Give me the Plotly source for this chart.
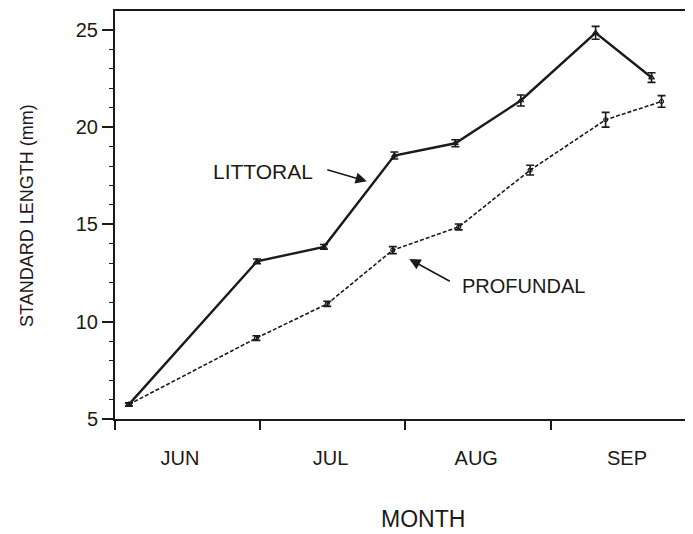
import plotly.graph_objects as go

# Sampling dates, in months since 1 June
littoral_x = [0.096, 0.978, 1.439, 1.924, 2.344, 2.795, 3.310, 3.695]
littoral_y = [5.75, 13.10, 13.85, 18.54, 19.17, 21.37, 24.85, 22.55]
littoral_err = [0.08, 0.12, 0.12, 0.18, 0.18, 0.28, 0.33, 0.25]

profundal_x = [0.096, 0.974, 1.462, 1.913, 2.367, 2.859, 3.379, 3.764]
profundal_y = [5.75, 9.16, 10.92, 13.68, 14.87, 17.79, 20.38, 21.32]
profundal_err = [0.08, 0.12, 0.13, 0.18, 0.15, 0.25, 0.38, 0.30]

month_names = ["JUN", "JUL", "AUG", "SEP"]
month_label_pos = [0.447, 1.485, 2.488, 3.526]
month_bounds = [0, 1, 2, 3]
y_major = [5, 10, 15, 20, 25]

FONT = "Liberation Sans, Arial, Helvetica, sans-serif"
INK = "#1a1a1a"

fig = go.Figure()

fig.add_trace(go.Scatter(
    x=littoral_x, y=littoral_y, mode="lines+markers", name="LITTORAL",
    line=dict(color=INK, width=2.4),
    marker=dict(symbol="triangle-up-open", size=5, color=INK, line=dict(width=1.2)),
    error_y=dict(type="data", array=littoral_err, visible=True,
                 color=INK, thickness=1.6, width=4),
))
fig.add_trace(go.Scatter(
    x=profundal_x, y=profundal_y, mode="lines+markers", name="PROFUNDAL",
    line=dict(color=INK, width=1.6, dash="4px,2px"),
    marker=dict(symbol="circle-open", size=4, color=INK, line=dict(width=1.2)),
    error_y=dict(type="data", array=profundal_err, visible=True,
                 color=INK, thickness=1.6, width=4),
))

annotations = [
    dict(x=1.734, y=17.22, xref="x", yref="y", ax=-41, ay=-12,
         showarrow=True, arrowhead=2, arrowsize=1.4, arrowwidth=1.6,
         arrowcolor=INK, text=""),
    dict(x=2.027, y=13.22, xref="x", yref="y", ax=42, ay=23,
         showarrow=True, arrowhead=2, arrowsize=1.4, arrowwidth=1.6,
         arrowcolor=INK, text=""),
    dict(x=1.017, y=17.74, xref="x", yref="y", text="LITTORAL",
         showarrow=False, xanchor="center", yanchor="middle",
         font=dict(family=FONT, size=21, color=INK)),
    dict(x=2.816, y=11.85, xref="x", yref="y", text="PROFUNDAL",
         showarrow=False, xanchor="center", yanchor="middle",
         font=dict(family=FONT, size=20, color=INK)),
    dict(x=-0.153, y=0.4976, xref="paper", yref="paper",
         text="STANDARD LENGTH (mm)", textangle=-90, showarrow=False,
         xanchor="center", yanchor="middle",
         font=dict(family=FONT, size=18, color=INK)),
    dict(x=0.535, y=-0.2439, xref="paper", yref="paper", text="MONTH",
         showarrow=False, xanchor="center", yanchor="middle",
         font=dict(family=FONT, size=23, color=INK)),
]

fig.update_layout(
    width=685, height=526,
    margin=dict(l=107, r=2, t=1, b=115),
    paper_bgcolor="white", plot_bgcolor="white",
    showlegend=False,
    font=dict(family=FONT, color=INK),
    annotations=annotations,
    xaxis=dict(
        range=[0, 3.96], showgrid=False, zeroline=False,
        showline=True, linecolor=INK, linewidth=2, mirror=True,
        tickmode="array", tickvals=month_label_pos, ticktext=month_names,
        ticks="", tickfont=dict(family=FONT, size=20, color=INK),
        ticklabelstandoff=20,
        minor=dict(tickmode="array", tickvals=month_bounds, ticks="outside",
                   ticklen=9, tickwidth=1.6, tickcolor=INK, showgrid=False),
    ),
    yaxis=dict(
        range=[5, 25.97], showgrid=False, zeroline=False,
        showline=True, linecolor=INK, linewidth=2, mirror=True,
        tickmode="array", tickvals=y_major,
        ticks="outside", ticklen=11, tickwidth=1.6, tickcolor=INK,
        tickfont=dict(family=FONT, size=20, color=INK),
        minor=dict(dtick=1, ticks="outside", ticklen=4, tickwidth=1.4,
                   tickcolor=INK, showgrid=False),
    ),
)

fig.write_html("out.html")
